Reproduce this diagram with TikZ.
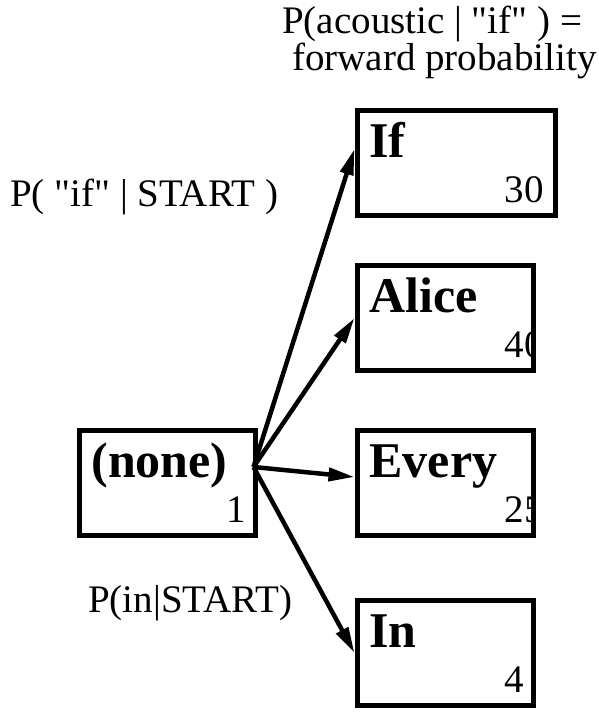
\documentclass[tikz,border=0pt]{standalone}
\usepackage{fontspec}
\setmainfont{Liberation Serif}
\newfontfamily\diagserif{Liberation Serif}
\usepackage{tikz}
\usetikzlibrary{arrows.meta, positioning}

\newcommand{\probfont}{\diagserif\fontsize{39}{37}\selectfont}
\newcommand{\wordfont}{\diagserif\fontsize{50}{50}\selectfont\bfseries}

\begin{document}
\begin{tikzpicture}[
    node distance = 55pt and 97pt,
    inbox/.style  = {anchor=base west, inner sep=0pt, draw=none,
                     minimum width=0pt, minimum height=0pt},
    wordbox/.style n args = {3}{draw, line width=5pt, minimum width=176pt,
                     minimum height=105pt, inner sep=0pt,
                     path picture={
                       \node[inbox, font=\wordfont] (#1-word)
                         at ([shift={(10pt,-47pt)}]path picture bounding box.north west) {#2};
                       \node[inbox, font=\probfont] (#1-num)
                         at ([shift={(145pt,13pt)}]path picture bounding box.south west) {#3};
                     }},
    prob/.style   = {font=\probfont, inner sep=0pt},
    arr/.style    = {-{Triangle[length=26pt, width=13pt]}, line width=4.5pt}
]
\useasboundingbox (0,0) rectangle (599pt,712pt);

%% Start node and the four candidate words
\node[wordbox={none}{(none)}{1}]                  (none)  at (167pt,229pt) {};
\node[wordbox={every}{Every}{25}, right=of none]  (every) {};
\node[wordbox={alice}{Alice}{40}, above=of every] (alice) {};
\node[wordbox={if}{If}{30}, minimum width=198pt,
      above=45pt of alice.north west, anchor=south west] (if) {};
\node[wordbox={in}{In}{4}, below=60pt of every]   (in)    {};

%% Transitions out of the start node
\coordinate (hub) at ([xshift=-4pt, yshift=16pt]none.east);
\draw[arr] (hub) -- ([yshift=14pt]if.west);
\draw[arr] (hub) -- (alice.west);
\draw[arr] (hub) -- ([yshift=6pt]every.west);
\draw[arr] (hub) -- (in.west);

%% Probability labels
\node[prob, anchor=north west, align=left] (fwd) at (282pt,706pt)
    {P(acoustic | "if" ) =\\\hspace*{10pt}forward probability};
\node[prob, anchor=base west] (ifstart) at (10pt,505pt) {P( "if" | START )};
\node[prob, anchor=base west] (instart) at (88pt,99pt)  {P(in|START)};

\end{tikzpicture}
\end{document}
